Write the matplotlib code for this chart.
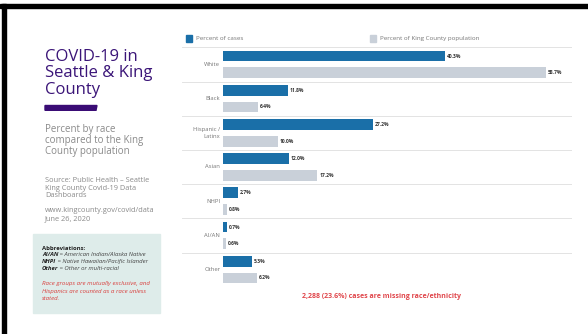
import numpy as np
import matplotlib
matplotlib.use('Agg')
import matplotlib.pyplot as plt
from matplotlib.patches import Rectangle, Polygon
from matplotlib.text import Annotation

W, H = 588, 334

categories = ['White', 'Black', 'Hispanic /\nLatinx', 'Asian', 'NHPI', 'AI/AN', 'Other']
pct_cases = [40.3, 11.8, 27.2, 12.0, 2.7, 0.7, 5.3]
pct_population = [58.7, 6.4, 10.0, 17.2, 0.8, 0.6, 6.2]

BLUE = '#1a6fa8'
GREY = '#c9d0d9'
PURPLE = '#3b1578'
TXT_GREY = '#8a8a8a'
RED = '#e0474c'

plt.rcParams['font.family'] = ['Open Sans', 'DejaVu Sans']

fig = plt.figure(figsize=(W / 100, H / 100), dpi=100)
fig.patch.set_facecolor('white')

def px(x, y):
    # pixel coords (top-left origin) -> figure fraction
    return x / W, 1 - y / H

# slide frame: black top and left edges
fig.patches.append(Rectangle(px(0, 7.5), 1, 3.5 / H, transform=fig.transFigure, color='black', zorder=5))
fig.patches.append(Rectangle(px(2, H), 4 / W, 1 - 4 / H, transform=fig.transFigure, color='black', zorder=5))

### Left panel text
for line, yb in zip(['COVID-19 in', 'Seattle & King', 'County'], [60.7, 77.0, 93.5]):
    fig.text(*px(45, yb), line, fontsize=12, color=PURPLE, va='baseline', ha='left')
fig.patches.append(Polygon([px(45, 105.5), px(97, 105.5), px(96, 110.3), px(45, 110.3)],
                           closed=True, transform=fig.transFigure, color='#3a0c75'))

for line, yc in zip(['Percent by race', 'compared to the King', 'County population'], [129.5, 140.5, 151.5]):
    fig.text(*px(45, yc), line, fontsize=7, color=TXT_GREY, va='center', ha='left')

for line, yc in zip(['Source: Public Health \u2013 Seattle', 'King County Covid-19 Data', 'Dashboards',
                     'www.kingcounty.gov/covid/data', 'June 26, 2020'],
                    [180.5, 188, 195.5, 210.5, 218.5]):
    fig.text(*px(45, yc), line, fontsize=5.3, color=TXT_GREY, va='center', ha='left')

# abbreviations box
fig.patches.append(Rectangle(px(33, 313), 127 / W, 79 / H, transform=fig.transFigure, color='#deecea', zorder=0))
fig.text(*px(42, 248), 'Abbreviations:', fontsize=4.3, fontweight='bold', color='#222222', va='center')
abbrevs = [('AI/AN', ' = American Indian/Alaska Native'),
           ('NHPI', ' = Native Hawaiian/Pacific Islander'),
           ('Other', ' = Other or multi-racial')]
for (key, desc), yc in zip(abbrevs, [254.8, 261.8, 268.8]):
    t = fig.text(*px(42, yc), key, fontsize=4.3, fontweight='bold', fontstyle='italic', color='#222222', va='center')
    fig.add_artist(Annotation(desc, xy=(1, 0.5), xycoords=t, va='center', ha='left',
                              fontsize=4.3, fontstyle='italic', color='#444444', annotation_clip=False))
for line, yc in zip(['Race groups are mutually exclusive, and', 'Hispanics are counted as a race unless', 'stated.'],
                    [284, 291, 298]):
    fig.text(*px(42, yc), line, fontsize=4.4, fontstyle='italic', color='#d9413f', va='center')

### Bar chart
ax_left, ax_right, ax_top, ax_bot = 182, 572, 47.3, 286.7
ax = fig.add_axes([ax_left / W, 1 - ax_bot / H, (ax_right - ax_left) / W, (ax_bot - ax_top) / H])
zero_px, pct_px = 222.7, 5.508
ax.set_xlim(-(zero_px - ax_left) / pct_px, (ax_right - zero_px) / pct_px)
ax.set_ylim(len(categories), 0)
ax.axis('off')

ypos = np.arange(len(categories)) + 0.5
off, bh = 0.245, 0.32
ax.barh(ypos - off, pct_cases, height=bh, color=BLUE)
ax.barh(ypos + off, pct_population, height=bh, color=GREY)

for i in range(len(categories) + 1):
    ax.axhline(i, color='#e3e3e3', lw=0.7, zorder=0)

for y, v in zip(ypos - off, pct_cases):
    ax.text(v + 0.4, y, f'{v:.1f}%', fontsize=3.6, fontweight='bold', color='#333333', va='center')
for y, v in zip(ypos + off, pct_population):
    ax.text(v + 0.4, y, f'{v:.1f}%', fontsize=3.6, fontweight='bold', color='#333333', va='center')
for y, c in zip(ypos, categories):
    ax.text(-0.45, y, c, fontsize=4.2, color='#777777', va='center', ha='right', linespacing=1.5)

# legend
fig.patches.append(Rectangle(px(186, 41.7), 6.3 / W, 6.7 / H, transform=fig.transFigure, color=BLUE))
fig.text(*px(196, 38.3), 'Percent of cases', fontsize=4.5, color='#777777', va='center')
fig.patches.append(Rectangle(px(370, 41.7), 6.3 / W, 6.7 / H, transform=fig.transFigure, color=GREY))
fig.text(*px(380, 38.3), 'Percent of King County population', fontsize=4.5, color='#777777', va='center')

fig.text(*px(381.7, 296.7), '2,288 (23.6%) cases are missing race/ethnicity',
         fontsize=5, fontweight='bold', color=RED, ha='center', va='center')

fig.savefig('out.png', dpi=100)
